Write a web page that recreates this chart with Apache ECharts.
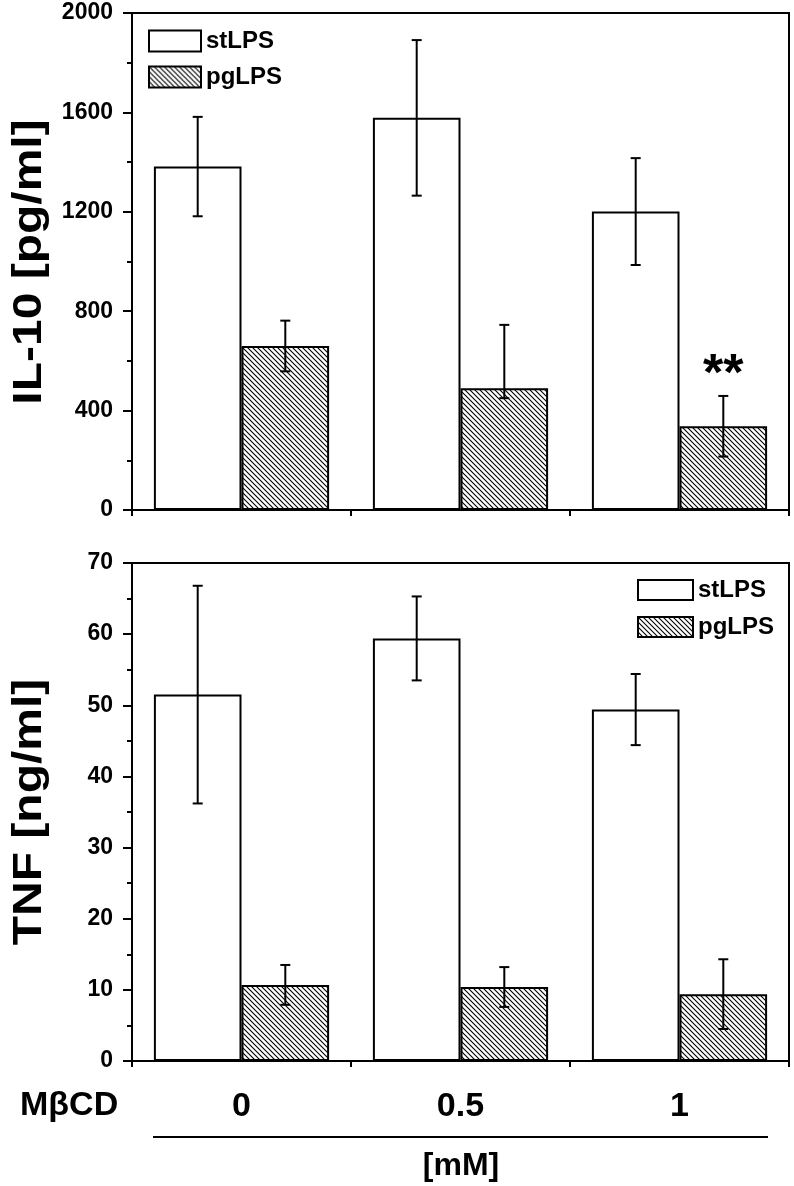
<!DOCTYPE html>
<html>
<head>
<meta charset="utf-8">
<script src="https://cdn.jsdelivr.net/npm/echarts@6/dist/echarts.min.js"></script>
<style>
html,body{margin:0;padding:0;background:#fff;}
#chart{width:794px;height:1186px;}
</style>
</head>
<body>
<div id="chart"></div>
<script>
// ---- data ----
const categories = ['0', '0.5', '1'];
const seriesNames = ['stLPS', 'pgLPS'];
// IL-10 [pg/ml]
const il10St = [1382, 1578, 1201];
const il10StErrUp = [200, 313, 215];
const il10StErrDown = [200, 313, 215];
const il10Pg = [660, 490, 337];
const il10PgErrUp = [102, 255, 122];
const il10PgErrDown = [102, 40, 122];
const il10Sig = ['', '', '**'];
// TNF [ng/ml]
const tnfSt = [51.5, 59.4, 49.4];
const tnfStErrUp = [15.3, 5.9, 5.0];
const tnfStErrDown = [15.3, 5.9, 5.0];
const tnfPg = [10.7, 10.4, 9.4];
const tnfPgErrUp = [2.8, 2.8, 4.9];
const tnfPgErrDown = [2.8, 2.8, 4.9];
const il10Ticks = {min: 0, max: 2000, interval: 400};
const tnfTicks = {min: 0, max: 70, interval: 10};

const FONT = '"Liberation Sans", Arial, sans-serif';

// hatch pattern
function makeHatch() {
  const s = 5;
  const c = document.createElement('canvas');
  c.width = s; c.height = s;
  const g = c.getContext('2d');
  g.fillStyle = '#fff';
  g.fillRect(0, 0, s, s);
  g.strokeStyle = '#000';
  g.lineWidth = 1.1;
  g.beginPath();
  g.moveTo(-1, -1); g.lineTo(s + 1, s + 1);
  g.moveTo(-1, s - 1); g.lineTo(1, s + 1);
  g.moveTo(s - 1, -1); g.lineTo(s + 1, 1);
  g.stroke();
  return c;
}
const hatch = {image: makeHatch(), repeat: 'repeat'};

const barStyleSt = {color: '#fff', borderColor: '#000', borderWidth: 2};
const barStylePg = {color: hatch, borderColor: '#000', borderWidth: 2};

function errSeries(vals, errUp, errDown, side, gi, sig) {
  return {
    type: 'custom',
    xAxisIndex: gi, yAxisIndex: gi,
    z: 10,
    silent: true,
    data: vals.map((v, i) => [i, v, errUp[i], errDown[i], sig ? sig[i] : '']),
    renderItem: function (params, api) {
      const band = api.size([1, 0])[0];
      const c = api.coord([api.value(0), api.value(1)]);
      const x = c[0] + side * band * 0.2;
      const v = api.value(1);
      const yt = api.coord([api.value(0), v + api.value(2)])[1];
      const yb = api.coord([api.value(0), v - api.value(3)])[1];
      const w = 5;
      const st = {stroke: '#000', lineWidth: 2};
      const children = [
        {type: 'line', shape: {x1: x, y1: yt, x2: x, y2: yb}, style: st},
        {type: 'line', shape: {x1: x - w, y1: yt, x2: x + w, y2: yt}, style: st},
        {type: 'line', shape: {x1: x - w, y1: yb, x2: x + w, y2: yb}, style: st}
      ];
      const s = api.value(4);
      if (s) {
        children.push({type: 'text', style: {text: s, x: x, y: yt - 20, align: 'center', verticalAlign: 'middle',
          font: 'bold 52px ' + FONT, fill: '#000'}});
      }
      return {type: 'group', children: children};
    }
  };
}

const axisLineStyle = {color: '#000', width: 2};

function yAxisDef(gi, t) {
  return {
    type: 'value', gridIndex: gi, min: t.min, max: t.max, interval: t.interval,
    axisLine: {show: true, lineStyle: axisLineStyle},
    axisTick: {show: true, inside: false, length: 9, lineStyle: {color: '#000', width: 2}},
    minorTick: {show: true, splitNumber: 2, length: 5, lineStyle: {color: '#000', width: 2}},
    splitLine: {show: false},
    axisLabel: {color: '#000', fontFamily: FONT, fontWeight: 'bold', fontSize: 23, margin: 19,
      formatter: function (v) { return String(v); }}
  };
}
function xAxisDef(gi, showLabel) {
  return {
    type: 'category', gridIndex: gi, data: categories,
    axisLine: {show: true, lineStyle: axisLineStyle},
    axisTick: {show: true, inside: false, length: 6, alignWithLabel: false, lineStyle: {color: '#000', width: 2}},
    axisLabel: {show: showLabel, color: '#000', fontFamily: FONT, fontWeight: 'bold', fontSize: 34, margin: 46, verticalAlign: 'middle'},
    splitLine: {show: false}
  };
}

const chart = echarts.init(document.getElementById('chart'), null, {renderer: 'canvas'});
const option = {
  backgroundColor: '#fff',
  animation: false,
  grid: [
    {left: 132, top: 13, width: 657, height: 497, show: true, borderColor: '#000', borderWidth: 2, backgroundColor: 'transparent'},
    {left: 132, top: 563, width: 657, height: 498, show: true, borderColor: '#000', borderWidth: 2, backgroundColor: 'transparent'}
  ],
  xAxis: [xAxisDef(0, false), xAxisDef(1, true)],
  yAxis: [yAxisDef(0, il10Ticks), yAxisDef(1, tnfTicks)],
  legend: [
    {
      orient: 'vertical', left: 148, top: 29, padding: 0, itemWidth: 52, itemHeight: 21, itemGap: 12,
      data: seriesNames, icon: 'rect',
      textStyle: {color: '#000', fontFamily: FONT, fontWeight: 'bold', fontSize: 24}
    },
    {
      orient: 'vertical', left: 637, top: 578, padding: 0, itemWidth: 55, itemHeight: 20, itemGap: 13,
      data: seriesNames, icon: 'rect',
      textStyle: {color: '#000', fontFamily: FONT, fontWeight: 'bold', fontSize: 24}
    }
  ],
  series: [
    {name: 'stLPS', type: 'bar', xAxisIndex: 0, yAxisIndex: 0, data: il10St, itemStyle: barStyleSt, barGap: '0%', barCategoryGap: '20%'},
    {name: 'pgLPS', type: 'bar', xAxisIndex: 0, yAxisIndex: 0, data: il10Pg, itemStyle: barStylePg, barGap: '0%', barCategoryGap: '20%'},
    {name: 'stLPS', type: 'bar', xAxisIndex: 1, yAxisIndex: 1, data: tnfSt, itemStyle: barStyleSt, barGap: '0%', barCategoryGap: '20%'},
    {name: 'pgLPS', type: 'bar', xAxisIndex: 1, yAxisIndex: 1, data: tnfPg, itemStyle: barStylePg, barGap: '0%', barCategoryGap: '20%'},
    errSeries(il10St, il10StErrUp, il10StErrDown, -1, 0),
    errSeries(il10Pg, il10PgErrUp, il10PgErrDown, 1, 0, il10Sig),
    errSeries(tnfSt, tnfStErrUp, tnfStErrDown, -1, 1),
    errSeries(tnfPg, tnfPgErrUp, tnfPgErrDown, 1, 1)
  ],
  graphic: [
    {type: 'text', x: 30, y: 262, rotation: Math.PI / 2, scaleX: 1.2,
      style: {text: 'IL-10 [pg/ml]', align: 'center', verticalAlign: 'middle', font: 'bold 40px ' + FONT, fill: '#000'}},
    {type: 'text', x: 30, y: 812, rotation: Math.PI / 2, scaleX: 1.2,
      style: {text: 'TNF [ng/ml]', align: 'center', verticalAlign: 'middle', font: 'bold 40px ' + FONT, fill: '#000'}},
    {type: 'text', x: 20, y: 1106,
      style: {text: 'MβCD', align: 'left', verticalAlign: 'middle', font: 'bold 34px ' + FONT, fill: '#000'}},
    {type: 'line', shape: {x1: 153, y1: 1137, x2: 768, y2: 1137}, style: {stroke: '#000', lineWidth: 2}},
    {type: 'text', x: 461, y: 1166,
      style: {text: '[mM]', align: 'center', verticalAlign: 'middle', font: 'bold 32px ' + FONT, fill: '#000'}}
  ]
};
chart.setOption(option);
</script>
</body>
</html>
